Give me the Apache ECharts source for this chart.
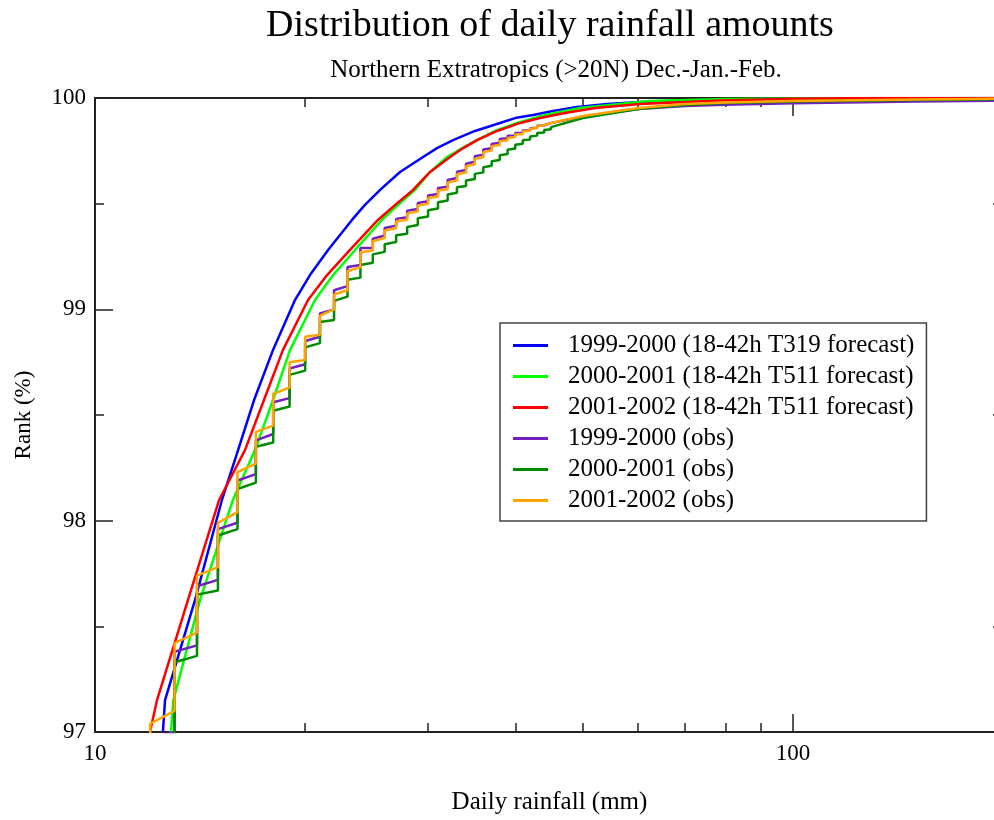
<!DOCTYPE html>
<html><head><meta charset="utf-8">
<script src="https://cdn.jsdelivr.net/npm/echarts@6/dist/echarts.min.js"></script>
<style>html,body{margin:0;padding:0;background:#fff}#c{width:994px;height:820px}</style>
</head><body><div id="c"></div>
<script>
// ---- data ----
const titleText = 'Distribution of daily rainfall amounts';
const subTitleText = 'Northern Extratropics (>20N) Dec.-Jan.-Feb.';
const xName = 'Daily rainfall (mm)';
const yName = 'Rank (%)';
const seriesNames = [
  '1999-2000 (18-42h T319 forecast)',
  '2000-2001 (18-42h T511 forecast)',
  '2001-2002 (18-42h T511 forecast)',
  '1999-2000 (obs)',
  '2000-2001 (obs)',
  '2001-2002 (obs)'
];
const seriesColors = ['#0000ff', '#00ff00', '#ff0000', '#7221bc', '#008b00', '#ffa500'];

// forecasts: rainfall (mm) and rank (%)
const fc1999MM   = [12.51, 12.60, 13.91, 15.20, 16.03, 16.90, 17.99, 19.34, 20.32, 21.57, 23.34, 24.36, 25.61, 27.35, 29.51, 30.90, 32.58, 35.02, 38.04, 39.97, 42.42, 45.31, 49.04, 54.15, 60.37, 73.57, 100, 200];
const fc1999Rank = [97.0, 97.151, 97.625, 98.098, 98.334, 98.571, 98.808, 99.044, 99.162, 99.281, 99.423, 99.494, 99.565, 99.650, 99.721, 99.763, 99.801, 99.844, 99.882, 99.905, 99.920, 99.938, 99.957, 99.972, 99.981, 99.991, 99.997, 100];
const fc2000MM   = [12.85, 12.95, 14.14, 15.76, 16.95, 17.99, 19.03, 20.66, 21.93, 23.58, 25.77, 27.18, 28.74, 30.20, 31.94, 33.57, 35.26, 37.42, 40.23, 44.13, 49.53, 62.39, 80, 100, 200];
const fc2000Rank = [97.0, 97.151, 97.625, 98.098, 98.334, 98.571, 98.808, 99.044, 99.162, 99.281, 99.423, 99.494, 99.565, 99.650, 99.721, 99.763, 99.801, 99.844, 99.882, 99.920, 99.953, 99.986, 99.995, 99.998, 100];
const fc2001MM   = [11.99, 12.27, 13.59, 15.06, 16.40, 17.46, 18.59, 20.19, 21.50, 23.19, 25.43, 26.91, 28.55, 30.20, 32.26, 33.68, 35.26, 37.67, 40.63, 43.41, 47.13, 52.05, 60.37, 78.6, 100, 130, 200];
const fc2001Rank = [97.0, 97.151, 97.625, 98.098, 98.334, 98.571, 98.808, 99.044, 99.162, 99.281, 99.423, 99.494, 99.565, 99.650, 99.721, 99.763, 99.801, 99.844, 99.882, 99.905, 99.929, 99.953, 99.972, 99.988, 99.996, 100, 100];

// observations: reported in whole mm, so rank jumps at each integer (low -> high)
const obsStepMM = [12,13,14,15,16,17,18,19,20,21,22,23,24,25,26,27,28,29,30,31,32,33,34,35,36,37,38,39,40,41,42,43,44,45];
const obs1999Lo = [96.90, 97.00, 97.41, 97.72, 97.99, 98.22, 98.41, 98.58, 98.74, 98.87, 99.00, 99.11, 99.21, 99.290, 99.349, 99.396, 99.436, 99.475, 99.511, 99.546, 99.580, 99.621, 99.659, 99.698, 99.732, 99.762, 99.788, 99.809, 99.822, 99.834, 99.847, 99.859, 99.871, 99.881];
const obs1999Hi = [96.97, 97.38, 97.69, 97.96, 98.19, 98.38, 98.56, 98.72, 98.85, 98.98, 99.09, 99.20, 99.29, 99.334, 99.385, 99.428, 99.466, 99.503, 99.539, 99.574, 99.612, 99.651, 99.689, 99.724, 99.756, 99.782, 99.806, 99.821, 99.834, 99.846, 99.857, 99.869, 99.879, 99.889];
const obs2000Lo = [96.80, 96.95, 97.36, 97.67, 97.96, 98.18, 98.37, 98.54, 98.71, 98.84, 98.95, 99.06, 99.15, 99.220, 99.272, 99.319, 99.358, 99.399, 99.439, 99.477, 99.515, 99.552, 99.584, 99.617, 99.648, 99.679, 99.707, 99.735, 99.761, 99.784, 99.804, 99.822, 99.837, 99.852];
const obs2000Hi = [96.90, 97.33, 97.65, 97.93, 98.15, 98.35, 98.52, 98.69, 98.82, 98.94, 99.04, 99.14, 99.21, 99.260, 99.308, 99.351, 99.390, 99.431, 99.469, 99.507, 99.543, 99.578, 99.610, 99.641, 99.672, 99.701, 99.729, 99.755, 99.779, 99.800, 99.818, 99.834, 99.849, 99.862];
const obs2001Lo = [96.96, 97.10, 97.47, 97.78, 98.04, 98.27, 98.45, 98.63, 98.76, 98.88, 99.00, 99.09, 99.20, 99.278, 99.337, 99.384, 99.424, 99.463, 99.499, 99.534, 99.568, 99.609, 99.647, 99.686, 99.720, 99.752, 99.778, 99.799, 99.815, 99.830, 99.845, 99.858, 99.871, 99.882];
const obs2001Hi = [97.04, 97.42, 97.74, 97.99, 98.23, 98.42, 98.60, 98.75, 98.87, 98.97, 99.07, 99.18, 99.27, 99.322, 99.373, 99.416, 99.454, 99.491, 99.527, 99.562, 99.600, 99.639, 99.677, 99.712, 99.744, 99.772, 99.796, 99.811, 99.827, 99.842, 99.855, 99.868, 99.879, 99.890];
const obsTailMM   = [50, 60, 70, 80, 100, 150, 200];
const obs1999Tail = [99.912, 99.948, 99.962, 99.968, 99.975, 99.983, 99.988];
const obs2000Tail = [99.905, 99.948, 99.967, 99.976, 99.983, 99.990, 99.994];
const obs2001Tail = [99.915, 99.953, 99.972, 99.979, 99.986, 99.993, 99.997];

const xMin = 10, xMax = 194;
const xMajorTicks = [10, 100];
const xMinorTicks = [20, 30, 40, 50, 60, 70, 80, 90];

// ---- build ----
function pairs(xs, ys) { return xs.map((x, i) => [x, ys[i]]); }
function steps(lo, hi, tail) {
  const d = [];
  obsStepMM.forEach((n, i) => { d.push([n, lo[i]]); d.push([n, hi[i]]); });
  obsTailMM.forEach((n, i) => d.push([n, tail[i]]));
  return d;
}
const seriesData = [
  pairs(fc1999MM, fc1999Rank),
  pairs(fc2000MM, fc2000Rank),
  pairs(fc2001MM, fc2001Rank),
  steps(obs1999Lo, obs1999Hi, obs1999Tail),
  steps(obs2000Lo, obs2000Hi, obs2000Tail),
  steps(obs2001Lo, obs2001Hi, obs2001Tail)
];

const FONT = "'Liberation Serif', 'Times New Roman', serif";
const AX = '#222';
function xAx(pos, major, labels) {
  return {
    type: 'log', logBase: 10, min: xMin, max: xMax, position: pos, gridIndex: 0,
    axisLine: { show: major, lineStyle: { color: AX, width: 2 } },
    axisTick: { show: true, inside: true, length: major ? 18 : 9, customValues: major ? xMajorTicks : xMinorTicks, lineStyle: { color: AX, width: 1.5 } },
    axisLabel: { show: labels, customValues: major ? xMajorTicks : xMinorTicks, color: '#000', fontFamily: FONT, fontSize: 23, margin: 10 },
    splitLine: { show: false },
    minorTick: { show: false },
    name: labels ? xName : '', nameLocation: 'middle', nameGap: 58,
    nameTextStyle: { color: '#000', fontFamily: FONT, fontSize: 25, padding: [0, 0, 0, 10] }
  };
}

const chart = echarts.init(document.getElementById('c'), null, { renderer: 'canvas' });
chart.setOption({
  animation: false,
  backgroundColor: '#fff',
  title: [
    { text: titleText, left: 545, top: 2, textAlign: 'center',
      textStyle: { fontFamily: FONT, fontSize: 38, fontWeight: 'normal', color: '#000' } },
    { text: subTitleText, left: 551, top: 53, textAlign: 'center',
      textStyle: { fontFamily: FONT, fontSize: 25, fontWeight: 'normal', color: '#000' } }
  ],
  grid: { left: 95, top: 98, bottom: 88, right: 0, containLabel: false },
  xAxis: [ xAx('bottom', true, true), xAx('bottom', false, false), xAx('top', true, false), xAx('top', false, false) ],
  yAxis: [
    { type: 'value', min: 97, max: 100, interval: 1, position: 'left',
      axisLine: { show: true, lineStyle: { color: AX, width: 2 } },
      axisTick: { show: true, inside: true, length: 18, lineStyle: { color: AX, width: 1.5 } },
      minorTick: { show: true, splitNumber: 2, length: 9, lineStyle: { color: AX, width: 1.5 } },
      axisLabel: { color: '#000', fontFamily: FONT, fontSize: 23, margin: 9 },
      splitLine: { show: false },
      name: yName, nameLocation: 'middle', nameGap: 60, nameRotate: 90,
      nameTextStyle: { color: '#000', fontFamily: FONT, fontSize: 23 } },
    { type: 'value', min: 97, max: 100, interval: 1, position: 'right', offset: 9,
      axisLine: { show: false },
      axisTick: { show: false, inside: true },
      minorTick: { show: true, splitNumber: 2, length: 10, lineStyle: { color: AX, width: 1.5 } },
      axisLabel: { show: false }, splitLine: { show: false } }
  ],
  legend: {
    orient: 'vertical', left: 500, top: 323,
    data: seriesNames,
    icon: 'rect', itemWidth: 35, itemHeight: 3, itemGap: 6,
    padding: [10, 12, 8, 13],
    borderColor: '#444', borderWidth: 1.5, backgroundColor: '#fff',
    textStyle: { fontFamily: FONT, fontSize: 25, color: '#000', lineHeight: 22, padding: [0, 0, 0, 15] },
    inactiveColor: '#000'
  },
  series: seriesNames.map((name, i) => ({
    name, type: 'line', data: seriesData[i], symbol: 'none', showSymbol: false,
    xAxisIndex: 0, yAxisIndex: 0, clip: true,
    lineStyle: { color: seriesColors[i], width: 2.5 },
    itemStyle: { color: seriesColors[i] },
    emphasis: { disabled: true }
  }))
});
</script>
</body></html>
